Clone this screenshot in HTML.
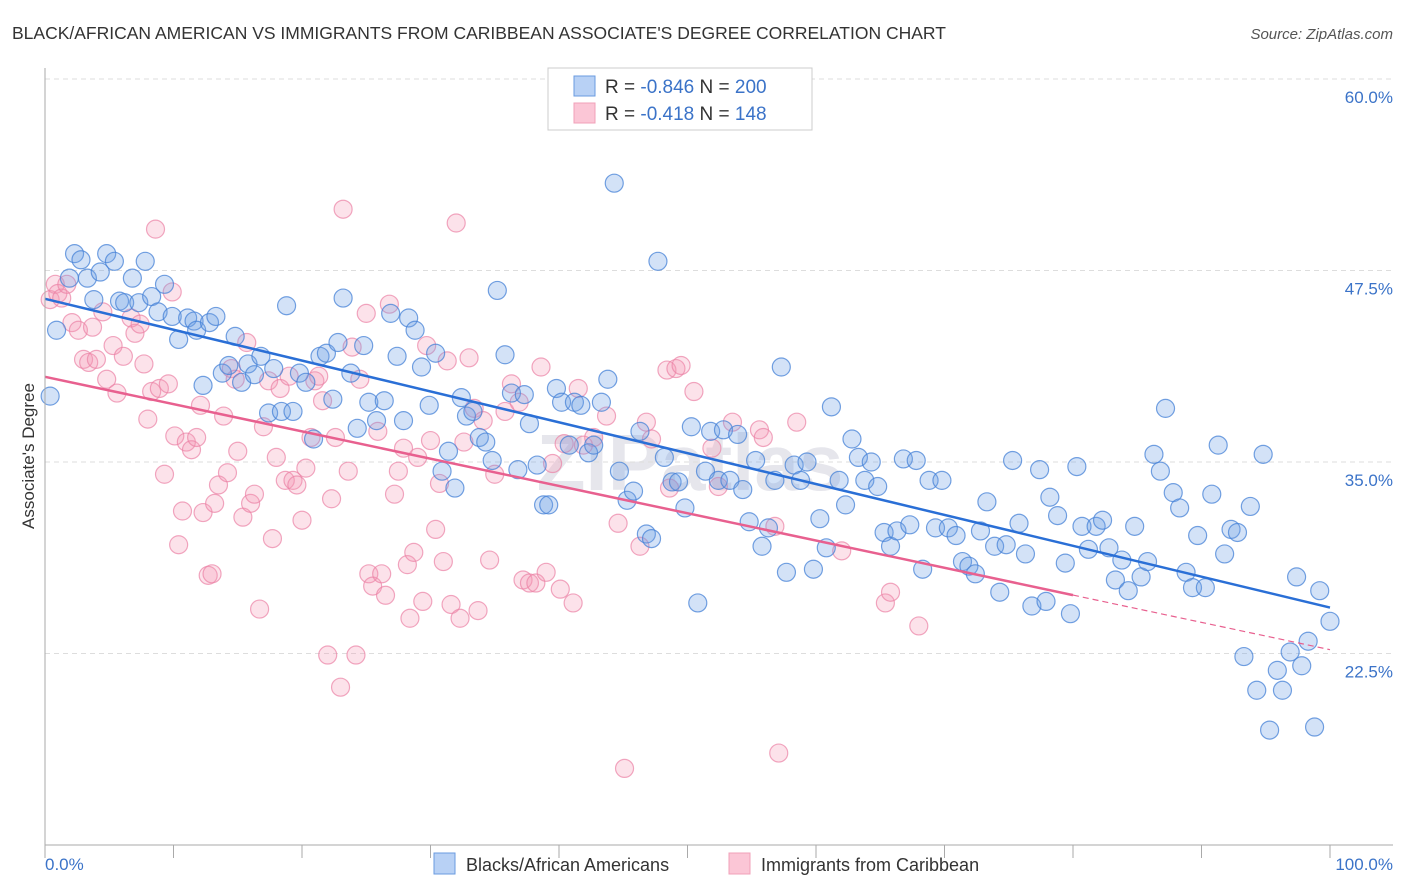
<!DOCTYPE html>
<html><head><meta charset="utf-8"><style>
body{margin:0;background:#fff;font-family:"Liberation Sans",sans-serif}
svg{display:block}
</style></head><body>
<svg id="chart" width="1406" height="892" xmlns="http://www.w3.org/2000/svg">
<text x="12" y="39" font-size="17.5" fill="#333">BLACK/AFRICAN AMERICAN VS IMMIGRANTS FROM CARIBBEAN ASSOCIATE'S DEGREE CORRELATION CHART</text>
<text x="1393" y="39" font-size="15" fill="#555" font-style="italic" text-anchor="end">Source: ZipAtlas.com</text>
<text x="690" y="490" font-size="80" fill="#e6e6ec" text-anchor="middle" font-weight="bold">ZIPatlas</text>
<g id="grid"></g>
<g id="pts"></g>
<g id="lines"></g>
<line x1="45" y1="68" x2="45" y2="845" stroke="#aaa"/>
<line x1="45" y1="845" x2="1393" y2="845" stroke="#aaa"/>
<text transform="translate(34,456) rotate(-90)" font-size="17" fill="#333" text-anchor="middle">Associate's Degree</text>
<text x="45" y="870" font-size="17" fill="#3b73c8">0.0%</text>
<text x="1393" y="870" font-size="17" fill="#3b73c8" text-anchor="end">100.0%</text>
<g>
<rect x="548" y="68" width="264" height="62" fill="#fff" stroke="#ccc"/>
<rect x="574" y="76" width="21" height="20" fill="#b8d1f5" stroke="#6a9be0"/>
<rect x="574" y="103" width="21" height="20" fill="#fbc6d6" stroke="#f0a0b8"/>
<text x="605" y="93" font-size="19" fill="#333">R = <tspan fill="#3b73c8">-0.846</tspan>   N = <tspan fill="#3b73c8">200</tspan></text>
<text x="605" y="120" font-size="19" fill="#333">R =  <tspan fill="#3b73c8">-0.418</tspan>   N =  <tspan fill="#3b73c8">148</tspan></text>
</g>
<g>
<rect x="434" y="853" width="21" height="21" fill="#b8d1f5" stroke="#6a9be0"/>
<text x="466" y="871" font-size="18" fill="#333">Blacks/African Americans</text>
<rect x="729" y="853" width="21" height="21" fill="#fbc6d6" stroke="#f0a0b8"/>
<text x="761" y="871" font-size="18" fill="#333">Immigrants from Caribbean</text>
</g>
</svg>
<script>
const yTicks=[60,47.5,35,22.5];
const yTickLabels=["60.0%","47.5%","35.0%","22.5%"];
const xTicks=[0,10,20,30,40,50,60,70,80,90,100];
const blueX=[0.4,0.9,2.3,2.8,1.9,3.3,4.3,4.8,5.4,3.8,5.8,6.2,6.8,7.3,7.8,8.3,8.8,9.3,9.9,10.4,11.1,11.6,11.8,12.8,13.3,12.3,13.8,14.3,14.8,15.3,15.8,16.3,16.8,17.4,17.8,18.4,18.8,19.3,19.8,20.3,20.9,21.4,21.9,22.4,22.8,23.2,23.8,24.3,24.8,25.2,25.8,26.4,26.9,27.4,27.9,28.3,28.8,29.3,29.9,30.4,30.9,31.4,31.9,32.4,32.8,33.3,33.8,34.3,34.8,35.2,35.8,36.3,36.8,37.3,37.7,38.3,38.8,39.2,39.8,40.2,40.8,41.2,41.7,42.3,42.7,43.3,43.8,44.3,44.7,45.3,45.8,46.3,46.8,47.2,47.7,48.2,48.8,49.3,49.8,50.3,50.8,51.4,51.8,52.4,52.8,53.3,53.9,54.3,54.8,55.3,55.8,56.3,56.8,57.3,57.7,58.3,58.8,59.3,59.8,60.3,60.8,61.2,61.8,62.3,62.8,63.3,63.8,64.3,64.8,65.3,65.8,66.3,66.8,67.3,67.8,68.3,68.8,69.3,69.8,70.3,70.9,71.4,71.9,72.4,72.8,73.3,73.9,74.3,74.8,75.3,75.8,76.3,76.8,77.4,77.9,78.2,78.8,79.4,79.8,80.3,80.7,81.2,81.8,82.3,82.8,83.3,83.8,84.3,84.8,85.3,85.8,86.3,86.8,87.2,87.8,88.3,88.8,89.3,89.7,90.3,90.8,91.3,91.8,92.3,92.8,93.3,93.8,94.3,94.8,95.3,95.9,96.3,96.9,97.4,97.8,98.3,98.8,99.2,100];
const blueY=[39.3,43.6,48.6,48.2,47.0,47.0,47.4,48.6,48.1,45.6,45.5,45.4,47.0,45.4,48.1,45.8,44.8,46.6,44.5,43.0,44.4,44.2,43.6,44.1,44.5,40.0,40.8,41.3,43.2,40.2,41.4,40.7,41.9,38.2,41.1,38.3,45.2,38.3,40.8,40.2,36.5,41.9,42.1,39.1,42.8,45.7,40.8,37.2,42.6,38.9,37.7,39.0,44.7,41.9,37.7,44.4,43.6,41.2,38.7,42.1,34.4,35.7,33.3,39.2,38.0,38.3,36.6,36.3,35.1,46.2,42.0,39.5,34.5,39.4,37.5,34.8,32.2,32.2,39.8,38.9,36.1,38.9,38.7,35.6,36.1,38.9,40.4,53.2,34.4,32.5,33.1,37.0,30.3,30.0,48.1,35.3,33.7,33.7,32.0,37.3,25.8,34.4,37.0,33.8,37.1,33.8,36.8,33.2,31.1,35.1,29.5,30.7,33.8,41.2,27.8,34.8,33.8,35.0,28.0,31.3,29.4,38.6,33.8,32.2,36.5,35.3,33.8,35.0,33.4,30.4,29.5,30.5,35.2,30.9,35.1,28.0,33.8,30.7,33.8,30.7,30.2,28.5,28.2,27.7,30.5,32.4,29.5,26.5,29.6,35.1,31.0,29.0,25.6,34.5,25.9,32.7,31.5,28.4,25.1,34.7,30.8,29.3,30.8,31.2,29.4,27.3,28.6,26.6,30.8,27.5,28.5,35.5,34.4,38.5,33.0,32.0,27.8,26.8,30.2,26.8,32.9,36.1,29.0,30.6,30.4,22.3,32.1,20.1,35.5,17.5,21.4,20.1,22.6,27.5,21.7,23.3,17.7,26.6,24.6];
const pinkX=[0.4,0.8,1.0,1.3,1.7,2.1,2.6,3.0,3.4,3.7,4.0,4.5,4.8,5.3,5.6,6.1,6.7,7.0,7.4,7.7,8.0,8.3,8.6,8.9,9.3,9.6,9.9,10.1,10.4,10.7,11.0,11.4,11.8,12.1,12.3,12.7,13.0,13.2,13.5,13.9,14.2,14.5,14.8,15.0,15.4,15.7,16.0,16.3,16.7,17.0,17.4,17.7,18.0,18.3,18.7,19.0,19.3,19.6,20.0,20.3,20.7,21.0,21.3,21.6,22.0,22.3,22.6,23.0,23.2,23.6,23.9,24.2,24.5,25.0,25.2,25.5,25.9,26.2,26.5,26.8,27.2,27.5,27.9,28.2,28.4,28.7,29.0,29.4,29.7,30.0,30.4,30.7,31.0,31.3,31.6,32.0,32.3,32.6,33.0,33.4,33.7,34.1,34.6,35.0,35.8,36.3,36.9,37.2,37.7,38.2,38.6,39.0,39.5,40.1,40.4,41.1,41.5,41.9,42.7,43.7,44.6,45.1,46.3,46.8,47.2,48.4,48.6,49.1,49.5,50.5,51.9,52.4,53.5,55.6,55.9,56.8,57.1,58.5,62.0,65.4,65.8,68.0];
const pinkY=[45.6,46.6,46.0,45.7,46.6,44.1,43.6,41.7,41.5,43.8,41.7,44.8,40.4,42.6,39.5,41.9,44.4,43.4,44.0,41.4,37.8,39.6,50.2,39.8,34.2,40.1,46.1,36.7,29.6,31.8,36.3,35.8,36.6,38.7,31.7,27.6,27.7,32.3,33.5,38.0,34.3,41.1,40.4,35.7,31.4,42.8,32.3,32.9,25.4,37.3,40.3,30.0,35.3,39.8,33.8,40.6,33.8,33.5,31.2,34.6,36.6,40.3,40.6,39.0,22.4,32.6,36.6,20.3,51.5,34.4,42.5,22.4,40.4,44.7,27.7,26.9,37.0,27.7,26.3,45.3,32.9,34.4,35.9,28.3,24.8,29.1,35.3,25.9,42.6,36.4,30.6,33.6,28.5,41.6,25.7,50.6,24.8,36.3,41.8,38.5,25.3,37.7,28.6,34.2,38.3,40.1,38.9,27.3,27.1,27.1,41.2,27.8,34.9,26.7,36.2,25.8,39.8,36.1,36.6,38.0,31.0,15.0,29.5,37.6,36.5,41.0,33.3,41.1,41.3,39.6,35.9,33.4,37.6,37.1,36.6,30.8,16.0,37.6,29.2,25.8,26.5,24.3];
const blueTrend=[45.65,25.5];
const pinkTrend=[40.56,22.75];
const pinkSolidEnd=80;

const NS="http://www.w3.org/2000/svg";
const X0=45,X1=1330,Y60=79,PPU=191.5/12.5;
const sx=v=>X0+(X1-X0)*v/100;
const sy=v=>Y60+(60-v)*PPU;
function mk(tag,attrs,parent){const e=document.createElementNS(NS,tag);for(const k in attrs)e.setAttribute(k,attrs[k]);parent.appendChild(e);return e;}
const grid=document.getElementById('grid');
yTicks.forEach((t,i)=>{
  const l=mk('line',{x1:45,x2:1393,y1:sy(t),y2:sy(t),stroke:'#ddd','stroke-dasharray':'5,4'},grid);
  
  
  const tx=mk('text',{x:1393,y:sy(t)+24,'font-size':17,fill:'#3b73c8','text-anchor':'end'},grid);
  tx.textContent=yTickLabels[i];
  
  
});
xTicks.forEach(t=>{
  const l=mk('line',{x1:sx(t),x2:sx(t),y1:845,y2:858,stroke:'#aaa'},grid);
  
  
});
const pts=document.getElementById('pts');
function scatter(xs,ys,fill,stroke,name){
  xs.forEach((x,i)=>{
    const c=mk('circle',{cx:sx(x),cy:sy(ys[i]),r:9,fill:fill,stroke:stroke,'stroke-width':1.2},pts);
    
    
  });
}
scatter(pinkX,pinkY,'rgba(244,150,180,0.28)','rgba(235,130,165,0.7)','caribbean-point');
scatter(blueX,blueY,'rgba(110,160,230,0.3)','rgba(70,130,215,0.75)','black-point');
const lines=document.getElementById('lines');
let bl=mk('line',{x1:sx(0),y1:sy(blueTrend[0]),x2:sx(100),y2:sy(blueTrend[1]),stroke:'#2a6fd6','stroke-width':2.5},lines);


const pAt=x=>pinkTrend[0]+(pinkTrend[1]-pinkTrend[0])*x/100;
let pl=mk('line',{x1:sx(0),y1:sy(pinkTrend[0]),x2:sx(pinkSolidEnd),y2:sy(pAt(pinkSolidEnd)),stroke:'#e8608f','stroke-width':2.5},lines);


let pd=mk('line',{x1:sx(pinkSolidEnd),y1:sy(pAt(pinkSolidEnd)),x2:sx(100),y2:sy(pinkTrend[1]),stroke:'#e8608f','stroke-width':1.2,'stroke-dasharray':'6,4'},lines);


</script>
</body></html>
